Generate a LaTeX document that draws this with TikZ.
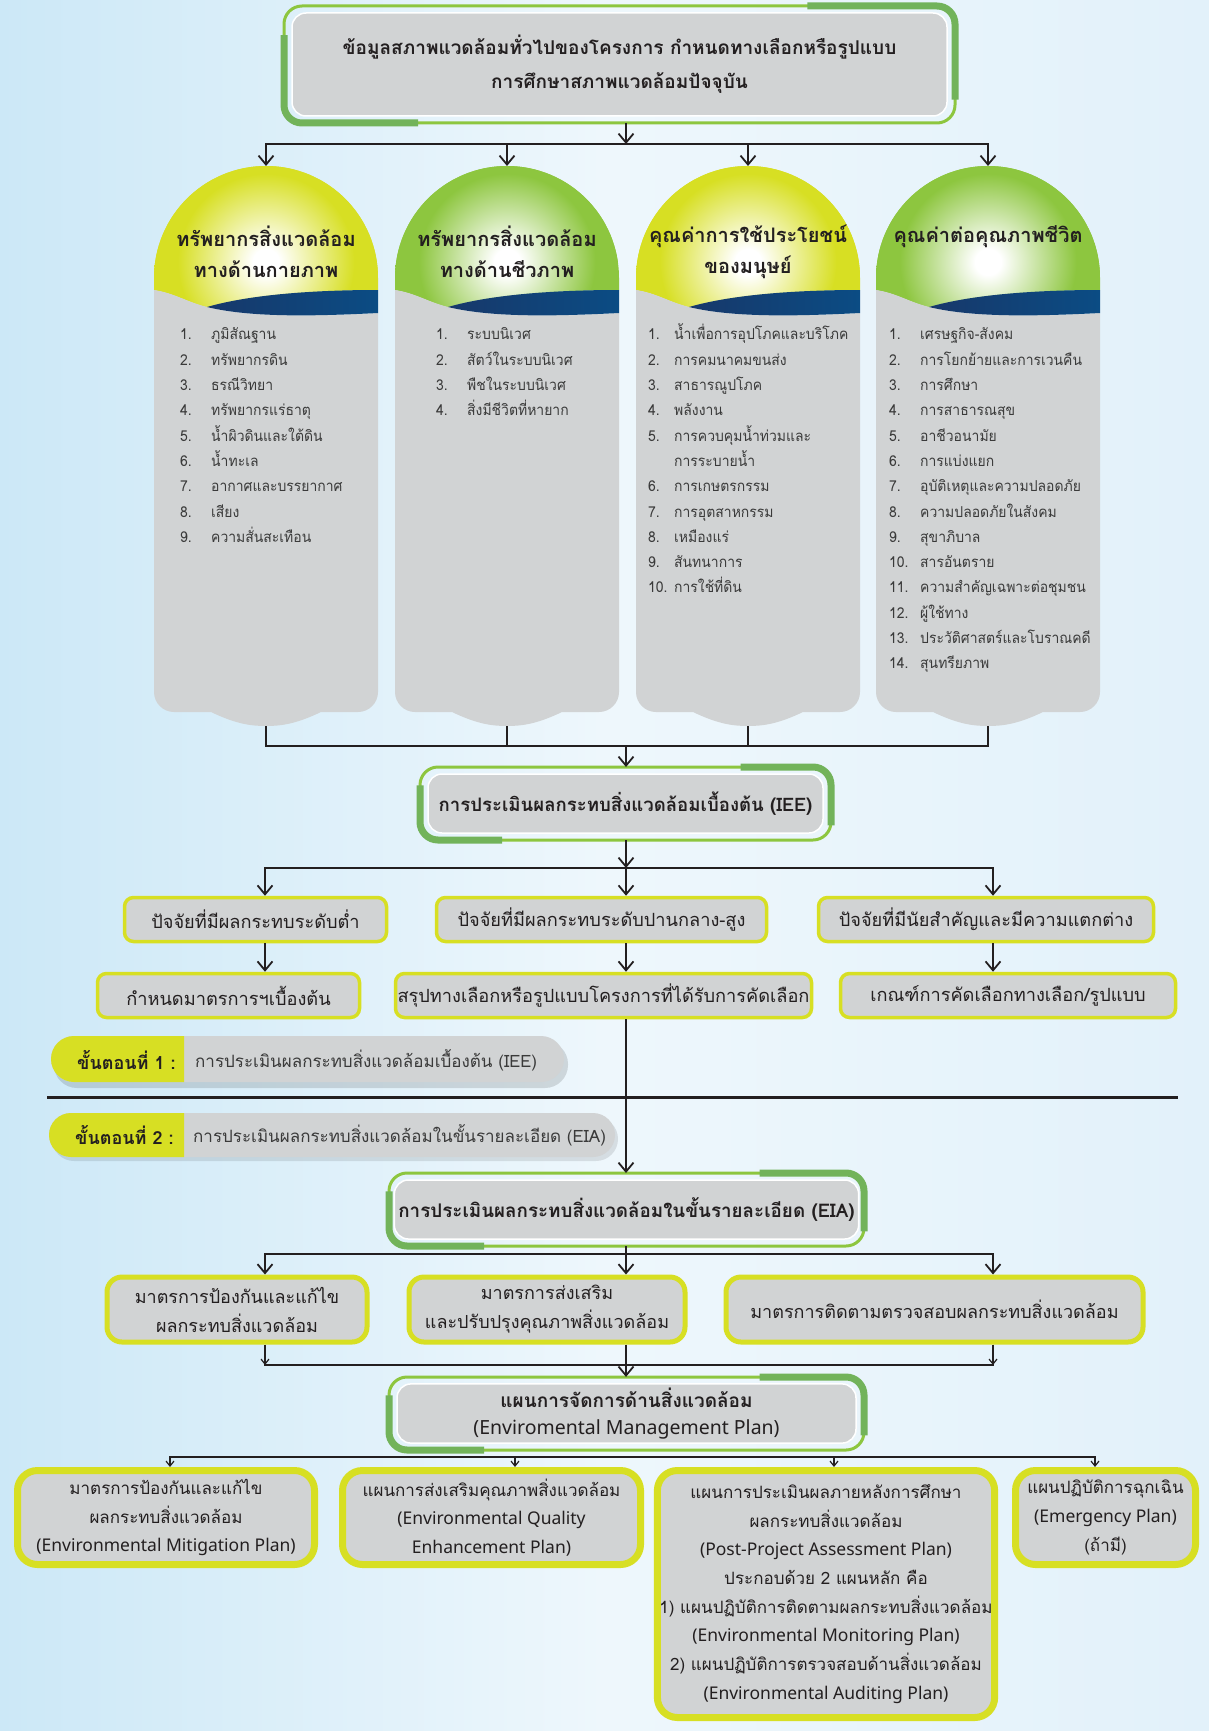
\documentclass[tikz,border=0pt]{standalone}
\usepackage{fontspec}
\setmainfont{Loma}[Script=Thai]
\newfontfamily\listf{Loma}[Script=Thai,FakeStretch=0.93]
\newfontfamily\enf{Noto Sans}
\usetikzlibrary{arrows.meta,calc}
\definecolor{gthinC}{HTML}{8DC63F}
\definecolor{gthickC}{HTML}{72B35A}
\definecolor{grayF}{HTML}{D1D3D4}
\definecolor{yelC}{HTML}{D7DF23}
\definecolor{greenC}{HTML}{8DC63F}
\definecolor{navyL}{HTML}{17386A}
\definecolor{navyR}{HTML}{0B4C84}
\definecolor{inkC}{HTML}{231F20}
\definecolor{listC}{HTML}{3A3A3A}
\definecolor{bgA}{HTML}{CCE8F7}
\definecolor{bgB}{HTML}{EEF7FC}
\definecolor{bgC}{HTML}{E2F1FA}
\colorlet{yelM}{yelC!45!white}
\colorlet{greenM}{greenC!45!white}
\pgfdeclareradialshading{glowY}{\pgfpoint{0bp}{0bp}}{color(0bp)=(white); color(2.5bp)=(white); color(9bp)=(yelM); color(17bp)=(yelC); color(50bp)=(yelC)}
\pgfdeclareradialshading{glowG}{\pgfpoint{0bp}{0bp}}{color(0bp)=(white); color(2.5bp)=(white); color(9bp)=(greenM); color(17bp)=(greenC); color(50bp)=(greenC)}
\newcommand\gbox[7]{%
  \draw[gthin] (#2,#3) rectangle (#4,#5);
  \draw[gthick] (#2,{#3+0.25*(#5-#3)}) |- ({#2+0.2*(#4-#2)},#5);
  \draw[gthick] ({#2+0.78*(#4-#2)},#3) -| (#4,{#3+0.8*(#5-#3)});
  \node[gbody,#6,minimum width={#4-#2-16},minimum height={#5-#3-14}] (#1) at ({(#2+#4)/2},{(#3+#5)/2}) {#7};
}
% #1 left x, #2 base colour, #3 glow shading, #4 node name
\newcommand\domeshape[4]{%
  \pgfmathsetmacro\dxa{#1}\pgfmathsetmacro\dxb{#1+224}\pgfmathsetmacro\dxc{#1+112}\pgfmathsetmacro\dxw{#1+53}%
  \begin{scope}
    \clip (\dxa,290) -- (\dxa,278) .. controls (\dxa,216.1) and ({\dxc-61.9},166) .. (\dxc,166) .. controls ({\dxc+61.9},166) and (\dxb,216.1) .. (\dxb,278) -- (\dxb,290) .. controls ({\dxb-60},290) and ({\dxw+45},294) .. (\dxw,307) .. controls ({\dxw-20},302) and ({\dxa+20},293) .. (\dxa,290) -- cycle;
    \fill[#2] (\dxa,160) rectangle (\dxb,320);
    \shade[shading=#3] (\dxc,262) circle[radius=130pt];
  \end{scope}
  \fill[grayF] (\dxa,290) .. controls ({\dxa+20},293) and ({\dxw-20},302) .. (\dxw,307) .. controls ({\dxw+45},318) and ({\dxb-60},316) .. (\dxb,313) -- (\dxb,692) .. controls (\dxb,703) and ({\dxb-9},712) .. ({\dxb-20},712) -- ({\dxc+55},712) .. controls ({\dxc+30},724) and ({\dxc+15},726) .. (\dxc,726) .. controls ({\dxc-15},726) and ({\dxc-30},724) .. ({\dxc-55},712) -- ({\dxa+20},712) .. controls ({\dxa+9},712) and (\dxa,703) .. (\dxa,692) -- cycle;
  \shade[left color=navyL, right color=navyR] (\dxw,307) .. controls ({\dxw+45},294) and ({\dxb-60},290) .. (\dxb,290) -- (\dxb,313) .. controls ({\dxb-60},316) and ({\dxw+45},318) .. (\dxw,307) -- cycle;
  \node[domebox] (#4) at (\dxc,446) {};
}
\begin{document}
\begin{tikzpicture}[x=1pt,y=-1pt,
  gthin/.style={draw=gthinC, line width=3, rounded corners=18},
  gthick/.style={draw=gthickC, line width=7, rounded corners=18},
  gbody/.style={fill=grayF, draw=white, line width=1.5, rounded corners=14, outer sep=7, inner sep=4, align=center, text=inkC},
  domebox/.style={minimum width=224, minimum height=560, inner sep=0, outer sep=0},
  head/.style={font=\bfseries\fontsize{20}{31}\selectfont, align=center, text=inkC, inner sep=0},
  listnode/.style={anchor=north west, inner sep=0, font=\listf\fontsize{15}{25.3}\selectfont, text=listC},
  ybox/.style={fill=grayF, draw=yelC, line width=3.5, rounded corners=9, align=center, text=inkC, inner sep=2, font=\fontsize{18.2}{29}\selectfont},
  ybox2/.style={ybox, line width=5, rounded corners=15, font=\fontsize{18}{29}\selectfont},
  ybox3/.style={ybox, line width=7, rounded corners=20, font=\fontsize{17}{28.7}\selectfont},
  arr/.style={draw=inkC, line width=1.8, -{Straight Barb[length=9pt,width=15pt]}},
  sarr/.style={draw=inkC, line width=1.2, -{Straight Barb[length=5pt,width=8pt]}},
  bus/.style={draw=inkC, line width=2.6, line cap=rect},
  plain/.style={draw=inkC, line width=2.2},
  steplab/.style={anchor=west, inner sep=0, font=\bfseries\fontsize{18}{22}\selectfont, text=inkC},
  steptxt/.style={anchor=west, inner sep=0, font=\fontsize{17}{22}\selectfont, text=listC}
]
\useasboundingbox (0,0) rectangle (1209,1731);
\shade[left color=bgA, right color=bgC, middle color=bgB] (0,0) rectangle (1209,1731);

% ---------- top box
\gbox{top}{284}{6}{955}{123}{font=\bfseries\fontsize{19}{34}\selectfont}{ข้อมูลสภาพแวดล้อมทั่วไปของโครงการ กำหนดทางเลือกหรือรูปแบบ\\การศึกษาสภาพแวดล้อมปัจจุบัน}

% ---------- domes
\domeshape{154}{yelC}{glowY}{dome1}
\domeshape{395}{greenC}{glowG}{dome2}
\domeshape{636}{yelC}{glowY}{dome3}
\domeshape{876}{greenC}{glowG}{dome4}

\node[head] (h1) at (266,251.5) {ทรัพยากรสิ่งแวดล้อม\\ทางด้านกายภาพ};
\node[head] (h2) at (507,251.5) {ทรัพยากรสิ่งแวดล้อม\\ทางด้านชีวภาพ};
\node[head] (h3) at (748,251.5) {คุณค่าการใช้ประโยชน์\\ของมนุษย์};
\node[head] (h4) at (988,237) {คุณค่าต่อคุณภาพชีวิต};

\node[listnode] (l1) at (180,322) {\begin{tabular}{@{}p{31pt}@{}l@{}}
1. & ภูมิสัณฐาน\\ 2. & ทรัพยากรดิน\\ 3. & ธรณีวิทยา\\ 4. & ทรัพยากรแร่ธาตุ\\ 5. & น้ำผิวดินและใต้ดิน\\ 6. & น้ำทะเล\\ 7. & อากาศและบรรยากาศ\\ 8. & เสียง\\ 9. & ความสั่นสะเทือน
\end{tabular}};
\node[listnode] (l2) at (436,322) {\begin{tabular}{@{}p{31pt}@{}l@{}}
1. & ระบบนิเวศ\\ 2. & สัตว์ในระบบนิเวศ\\ 3. & พืชในระบบนิเวศ\\ 4. & สิ่งมีชีวิตที่หายาก
\end{tabular}};
\node[listnode] (l3) at (648,322) {\begin{tabular}{@{}p{26pt}@{}l@{}}
1. & น้ำเพื่อการอุปโภคและบริโภค\\ 2. & การคมนาคมขนส่ง\\ 3. & สาธารณูปโภค\\ 4. & พลังงาน\\ 5. & การควบคุมน้ำท่วมและ\\ & การระบายน้ำ\\ 6. & การเกษตรกรรม\\ 7. & การอุตสาหกรรม\\ 8. & เหมืองแร่\\ 9. & สันทนาการ\\ 10. & การใช้ที่ดิน
\end{tabular}};
\node[listnode] (l4) at (889,322) {\begin{tabular}{@{}p{31pt}@{}l@{}}
1. & เศรษฐกิจ-สังคม\\ 2. & การโยกย้ายและการเวนคืน\\ 3. & การศึกษา\\ 4. & การสาธารณสุข\\ 5. & อาชีวอนามัย\\ 6. & การแบ่งแยก\\ 7. & อุบัติเหตุและความปลอดภัย\\ 8. & ความปลอดภัยในสังคม\\ 9. & สุขาภิบาล\\ 10. & สารอันตราย\\ 11. & ความสำคัญเฉพาะต่อชุมชน\\ 12. & ผู้ใช้ทาง\\ 13. & ประวัติศาสตร์และโบราณคดี\\ 14. & สุนทรียภาพ
\end{tabular}};

% ---------- bus 1
\coordinate (b1m) at (626,144);
\coordinate (b1a) at (266,144);
\coordinate (b1b) at (507,144);
\coordinate (b1c) at (748,144);
\coordinate (b1d) at (988,144);
\draw[bus] (b1a) -- (b1d);
\draw[arr] (top.south -| b1m) -- (b1m);
\foreach \c/\d in {b1a/dome1,b1b/dome2,b1c/dome3,b1d/dome4} \draw[arr] (\c) -- (\d.north);

% ---------- bus 2
\coordinate (b2m) at (626,746);
\coordinate (b2a) at (266,746);
\coordinate (b2b) at (507,746);
\coordinate (b2c) at (748,746);
\coordinate (b2d) at (988,746);
\foreach \c/\d in {b2a/dome1,b2b/dome2,b2c/dome3,b2d/dome4} \draw[plain] (\d.south) -- (\c);
\draw[bus] (b2a) -- (b2d);

% ---------- IEE
\gbox{iee}{420}{767}{831}{840}{font=\bfseries\fontsize{18.6}{24}\selectfont}{การประเมินผลกระทบสิ่งแวดล้อมเบื้องต้น (IEE)}
\draw[arr] (b2m) -- (iee.north -| b2m);

% ---------- bus 3 and factor rows
\coordinate (b3m) at (626,868);
\coordinate (b3a) at (265,868);
\coordinate (b3d) at (993,868);
\draw[bus] (b3a) -- (b3d);
\draw[arr] (iee.south -| b3m) -- (b3m);

\node[ybox, minimum width=262, minimum height=44] (fa1) at (255.5,919.5) {ปัจจัยที่มีผลกระทบระดับต่ำ};
\node[ybox, minimum width=330, minimum height=44] (fa2) at (601.5,919.5) {ปัจจัยที่มีผลกระทบระดับปานกลาง-สูง};
\node[ybox, minimum width=335, minimum height=44] (fa3) at (986,919.5) {ปัจจัยที่มีนัยสำคัญและมีความแตกต่าง};
\node[ybox, minimum width=262, minimum height=44] (fb1) at (228.5,995.5) {กำหนดมาตรการฯเบื้องต้น};
\node[ybox, minimum width=416, minimum height=44] (fb2) at (603.5,995.5) {สรุปทางเลือกหรือรูปแบบโครงการที่ได้รับการคัดเลือก};
\node[ybox, minimum width=335, minimum height=44] (fb3) at (1008,995.5) {เกณฑ์การคัดเลือกทางเลือก/รูปแบบ};

\draw[arr] (b3a) -- (b3a |- fa1.north);
\draw[arr] (b3m) -- (b3m |- fa2.north);
\draw[arr] (b3d) -- (b3d |- fa3.north);
\draw[arr] (fa1.south -| b3a) -- (fb1.north -| b3a);
\draw[arr] (fa2.south -| b3m) -- (fb2.north -| b3m);
\draw[arr] (fa3.south -| b3d) -- (fb3.north -| b3d);

% ---------- step pills
\fill[black, opacity=0.13, rounded corners=23] (54,1041) rectangle (568,1088);
\fill[grayF, rounded corners=23] (51,1036) rectangle (564,1082);
\begin{scope}
  \clip (40,1030) rectangle (184,1090);
  \fill[yelC, rounded corners=23] (51,1036) rectangle (564,1082);
\end{scope}
\node[steplab] (s1a) at (77,1060) {ขั้นตอนที่ 1 :};
\node[steptxt] (s1b) at (195,1060) {การประเมินผลกระทบสิ่งแวดล้อมเบื้องต้น (IEE)};

\coordinate (sepL) at (47,1097);
\coordinate (sepR) at (1178,1097);
\draw[draw=inkC, line width=3] (sepL) -- (sepR);

\fill[black, opacity=0.10, rounded corners=22] (52,1117) rectangle (618,1161);
\fill[grayF, rounded corners=22] (49,1113) rectangle (615,1157);
\begin{scope}
  \clip (40,1105) rectangle (184,1165);
  \fill[yelC, rounded corners=22] (49,1113) rectangle (615,1157);
\end{scope}
\node[steplab] (s2a) at (75,1135) {ขั้นตอนที่ 2 :};
\node[steptxt] (s2b) at (193,1135) {การประเมินผลกระทบสิ่งแวดล้อมในขั้นรายละเอียด (EIA)};

% ---------- EIA
\gbox{eia}{389}{1173}{864}{1246}{font=\bfseries\fontsize{18.8}{24}\selectfont}{การประเมินผลกระทบสิ่งแวดล้อมในขั้นรายละเอียด (EIA)}
\draw[arr] (fb2.south -| b3m) -- (eia.north -| b3m);

\coordinate (b4m) at (626,1254);
\coordinate (b4a) at (265,1254);
\coordinate (b4d) at (993,1254);
\draw[bus] (b4a) -- (b4d);

\node[ybox2, minimum width=260, minimum height=65] (fc1) at (237,1309.5) {มาตรการป้องกันและแก้ไข\\ผลกระทบสิ่งแวดล้อม};
\node[ybox2, minimum width=276, minimum height=65] (fc2) at (547,1309.5) {มาตรการส่งเสริม\\และปรับปรุงคุณภาพสิ่งแวดล้อม};
\node[ybox2, minimum width=417, minimum height=65] (fc3) at (934.5,1309.5) {มาตรการติดตามตรวจสอบผลกระทบสิ่งแวดล้อม};

\draw[arr] (eia.south -| b4m) -- (fc2.north -| b4m);
\draw[arr] (b4a) -- (b4a |- fc1.north);
\draw[arr] (b4d) -- (b4d |- fc3.north);

% ---------- bus 5 and EMP
\coordinate (b5m) at (626,1365);
\coordinate (b5a) at (265,1365);
\coordinate (b5d) at (993,1365);
\draw[bus] (b5a) -- (b5d);
\draw[sarr] (fc1.south -| b5a) -- (b5a);
\draw[sarr] (fc3.south -| b5d) -- (b5d);

\gbox{emp}{389}{1377}{864}{1450}{font=\bfseries\fontsize{19}{27}\selectfont}{แผนการจัดการด้านสิ่งแวดล้อม\\{\enf\fontsize{19.5}{27}\selectfont (Enviromental Management Plan)}}
\draw[arr] (fc2.south -| b5m) -- (emp.north -| b5m);

% ---------- bus 6 and bottom row
\coordinate (b6a) at (170,1457);
\coordinate (b6b) at (515,1457);
\coordinate (b6c) at (834,1457);
\coordinate (b6d) at (1095,1457);
\draw[bus] (b6a) -- (b6d);

\node[ybox3, minimum width=297, minimum height=94] (g1) at (166,1517.5) {มาตรการป้องกันและแก้ไข\\ผลกระทบสิ่งแวดล้อม\\{\enf\fontsize{17.5}{28.7}\selectfont (Environmental Mitigation Plan)}};
\node[ybox3, minimum width=298, minimum height=94] (g2) at (491.5,1517.5) {แผนการส่งเสริมคุณภาพสิ่งแวดล้อม\\{\enf\fontsize{17.5}{28.7}\selectfont (Environmental Quality}\\{\enf\fontsize{17.5}{28.7}\selectfont Enhancement Plan)}};
\node[ybox3, minimum width=331, minimum height=247] (g3) at (826,1594) {แผนการประเมินผลภายหลังการศึกษา\\ผลกระทบสิ่งแวดล้อม\\{\enf\fontsize{17.5}{28.7}\selectfont (Post-Project Assessment Plan)}\\ประกอบด้วย 2 แผนหลัก คือ\\1) แผนปฏิบัติการติดตามผลกระทบสิ่งแวดล้อม\\{\enf\fontsize{17.5}{28.7}\selectfont (Environmental Monitoring Plan)}\\2) แผนปฏิบัติการตรวจสอบด้านสิ่งแวดล้อม\\{\enf\fontsize{17.5}{28.7}\selectfont (Environmental Auditing Plan)}};
\node[ybox3, minimum width=180, minimum height=94] (g4) at (1105.5,1517.5) {แผนปฏิบัติการฉุกเฉิน\\{\enf\fontsize{17.5}{28.7}\selectfont (Emergency Plan)}\\(ถ้ามี)};

\draw[sarr] (b6a) -- (b6a |- g1.north);
\draw[sarr] (b6b) -- (b6b |- g2.north);
\draw[sarr] (b6c) -- (b6c |- g3.north);
\draw[sarr] (b6d) -- (b6d |- g4.north);
\end{tikzpicture}
\end{document}
